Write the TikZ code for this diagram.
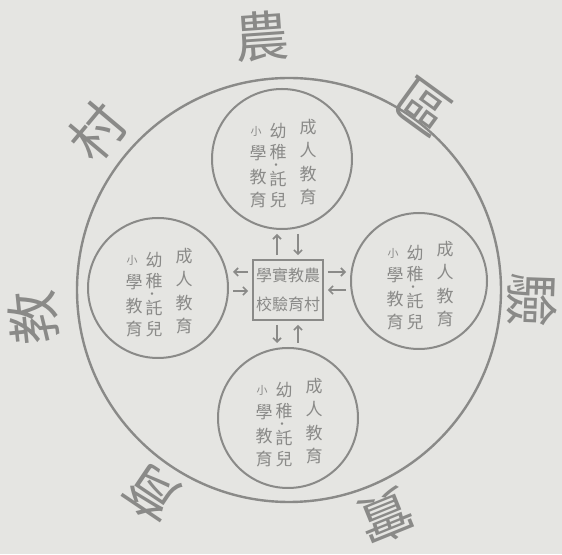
\documentclass[tikz,border=0pt]{standalone}
\usepackage{fontspec}
\newfontfamily\cjk{Noto Sans CJK TC}
\definecolor{ink}{RGB}{138,138,136}
\definecolor{paper}{RGB}{229,229,226}
\usepackage{tikz}
\usetikzlibrary{positioning, arrows.meta, calc}

\tikzset{
	ring/.style={shape=circle, draw=ink, line width=2.4pt, minimum size=424pt, inner sep=0pt},
	campus/.style={shape=circle, draw=ink, line width=2pt, minimum size=140pt, inner sep=0pt},
	hub/.style={draw=ink, line width=1.8pt, minimum width=70pt, minimum height=60pt, inner sep=0pt,
		align=center, text=ink, font=\cjk\fontsize{16}{29}\selectfont},
	col/.style={inner sep=0pt, align=center, text=ink, font=\cjk\fontsize{17}{23.3}\selectfont},
	rim/.style={inner sep=0pt, text=ink, font=\cjk\fontsize{54}{54}\selectfont},
	flow/.style={draw=ink, line width=1.6pt, -{Straight Barb[length=4pt, width=8pt]},
		shorten <=4pt, shorten >=4pt},
}

\begin{document}
\begin{tikzpicture}[x=1pt, y=1pt]
	\fill[paper] (0,0) rectangle (562,554);
	\useasboundingbox (0,0) rectangle (562,554);

	\node (ring) at (289,264) [ring] {};
	\node (hub) at (288,264) [hub] {學實教農\\校驗育村};
	\node (unitN) at (282,395) [campus] {};
	\node (unitW) at (158,266) [campus] {};
	\node (unitE) at (419,273) [campus, minimum size=136pt] {};
	\node (unitS) at (288,136) [campus] {};

	% three kinds of school in every unit
	\foreach \c in {unitN, unitW, unitE, unitS} {
		\node (\c-adult) at ($(\c)+(26,-3)$) [col] {成\\人\\教\\育};
		\node (\c-care) at ($(\c)+(-4,17)$) [col, font=\cjk\fontsize{17}{21}\selectfont] {幼\\稚};
		\node (\c-dot) at ($(\c)+(-6,-7)$) [col, font=\cjk\bfseries\fontsize{9}{9}\selectfont] {·};
		\node (\c-child) at ($(\c)+(-4,-31)$) [col, font=\cjk\fontsize{17}{21}\selectfont] {託\\兒};
		\node (\c-small) at ($(\c)+(-26,28)$) [col, font=\cjk\fontsize{11}{11}\selectfont] {小};
		\node (\c-school) at ($(\c)+(-24,-18)$) [col, font=\cjk\fontsize{17}{23.5}\selectfont] {學\\教\\育};
	}

	\draw[flow] ([xshift=-11pt]hub.north) -- ([xshift=-11pt]hub.north |- unitN.south);
	\draw[flow] ([xshift=10pt]hub.north |- unitN.south) -- ([xshift=10pt]hub.north);
	\draw[flow] ([yshift=18pt]hub.east) -- ([yshift=18pt]hub.east -| unitE.west);
	\draw[flow] (hub.east -| unitE.west) -- (hub.east);
	\draw[flow] ([yshift=18pt]hub.west) -- ([yshift=18pt]hub.west -| unitW.east);
	\draw[flow] ([yshift=-1pt]hub.west -| unitW.east) -- ([yshift=-1pt]hub.west);
	\draw[flow] ([xshift=-11pt]hub.south) -- ([xshift=-11pt]hub.south |- unitS.north);
	\draw[flow] ([xshift=10pt]hub.south |- unitS.north) -- ([xshift=10pt]hub.south);

	% name of the district round the ring
	\foreach \ch/\pos/\rot [count=\i] in {農/{262,518}/4, 村/{97,422}/50, 教/{33,236}/96,
			育/{152,60}/146, 實/{386,37}/-158, 驗/{532,254}/-92, 區/{423,447}/-36} {
		\node (rim\i) at (\pos) [rim, rotate=\rot] {\ch};
	}
\end{tikzpicture}
\end{document}
